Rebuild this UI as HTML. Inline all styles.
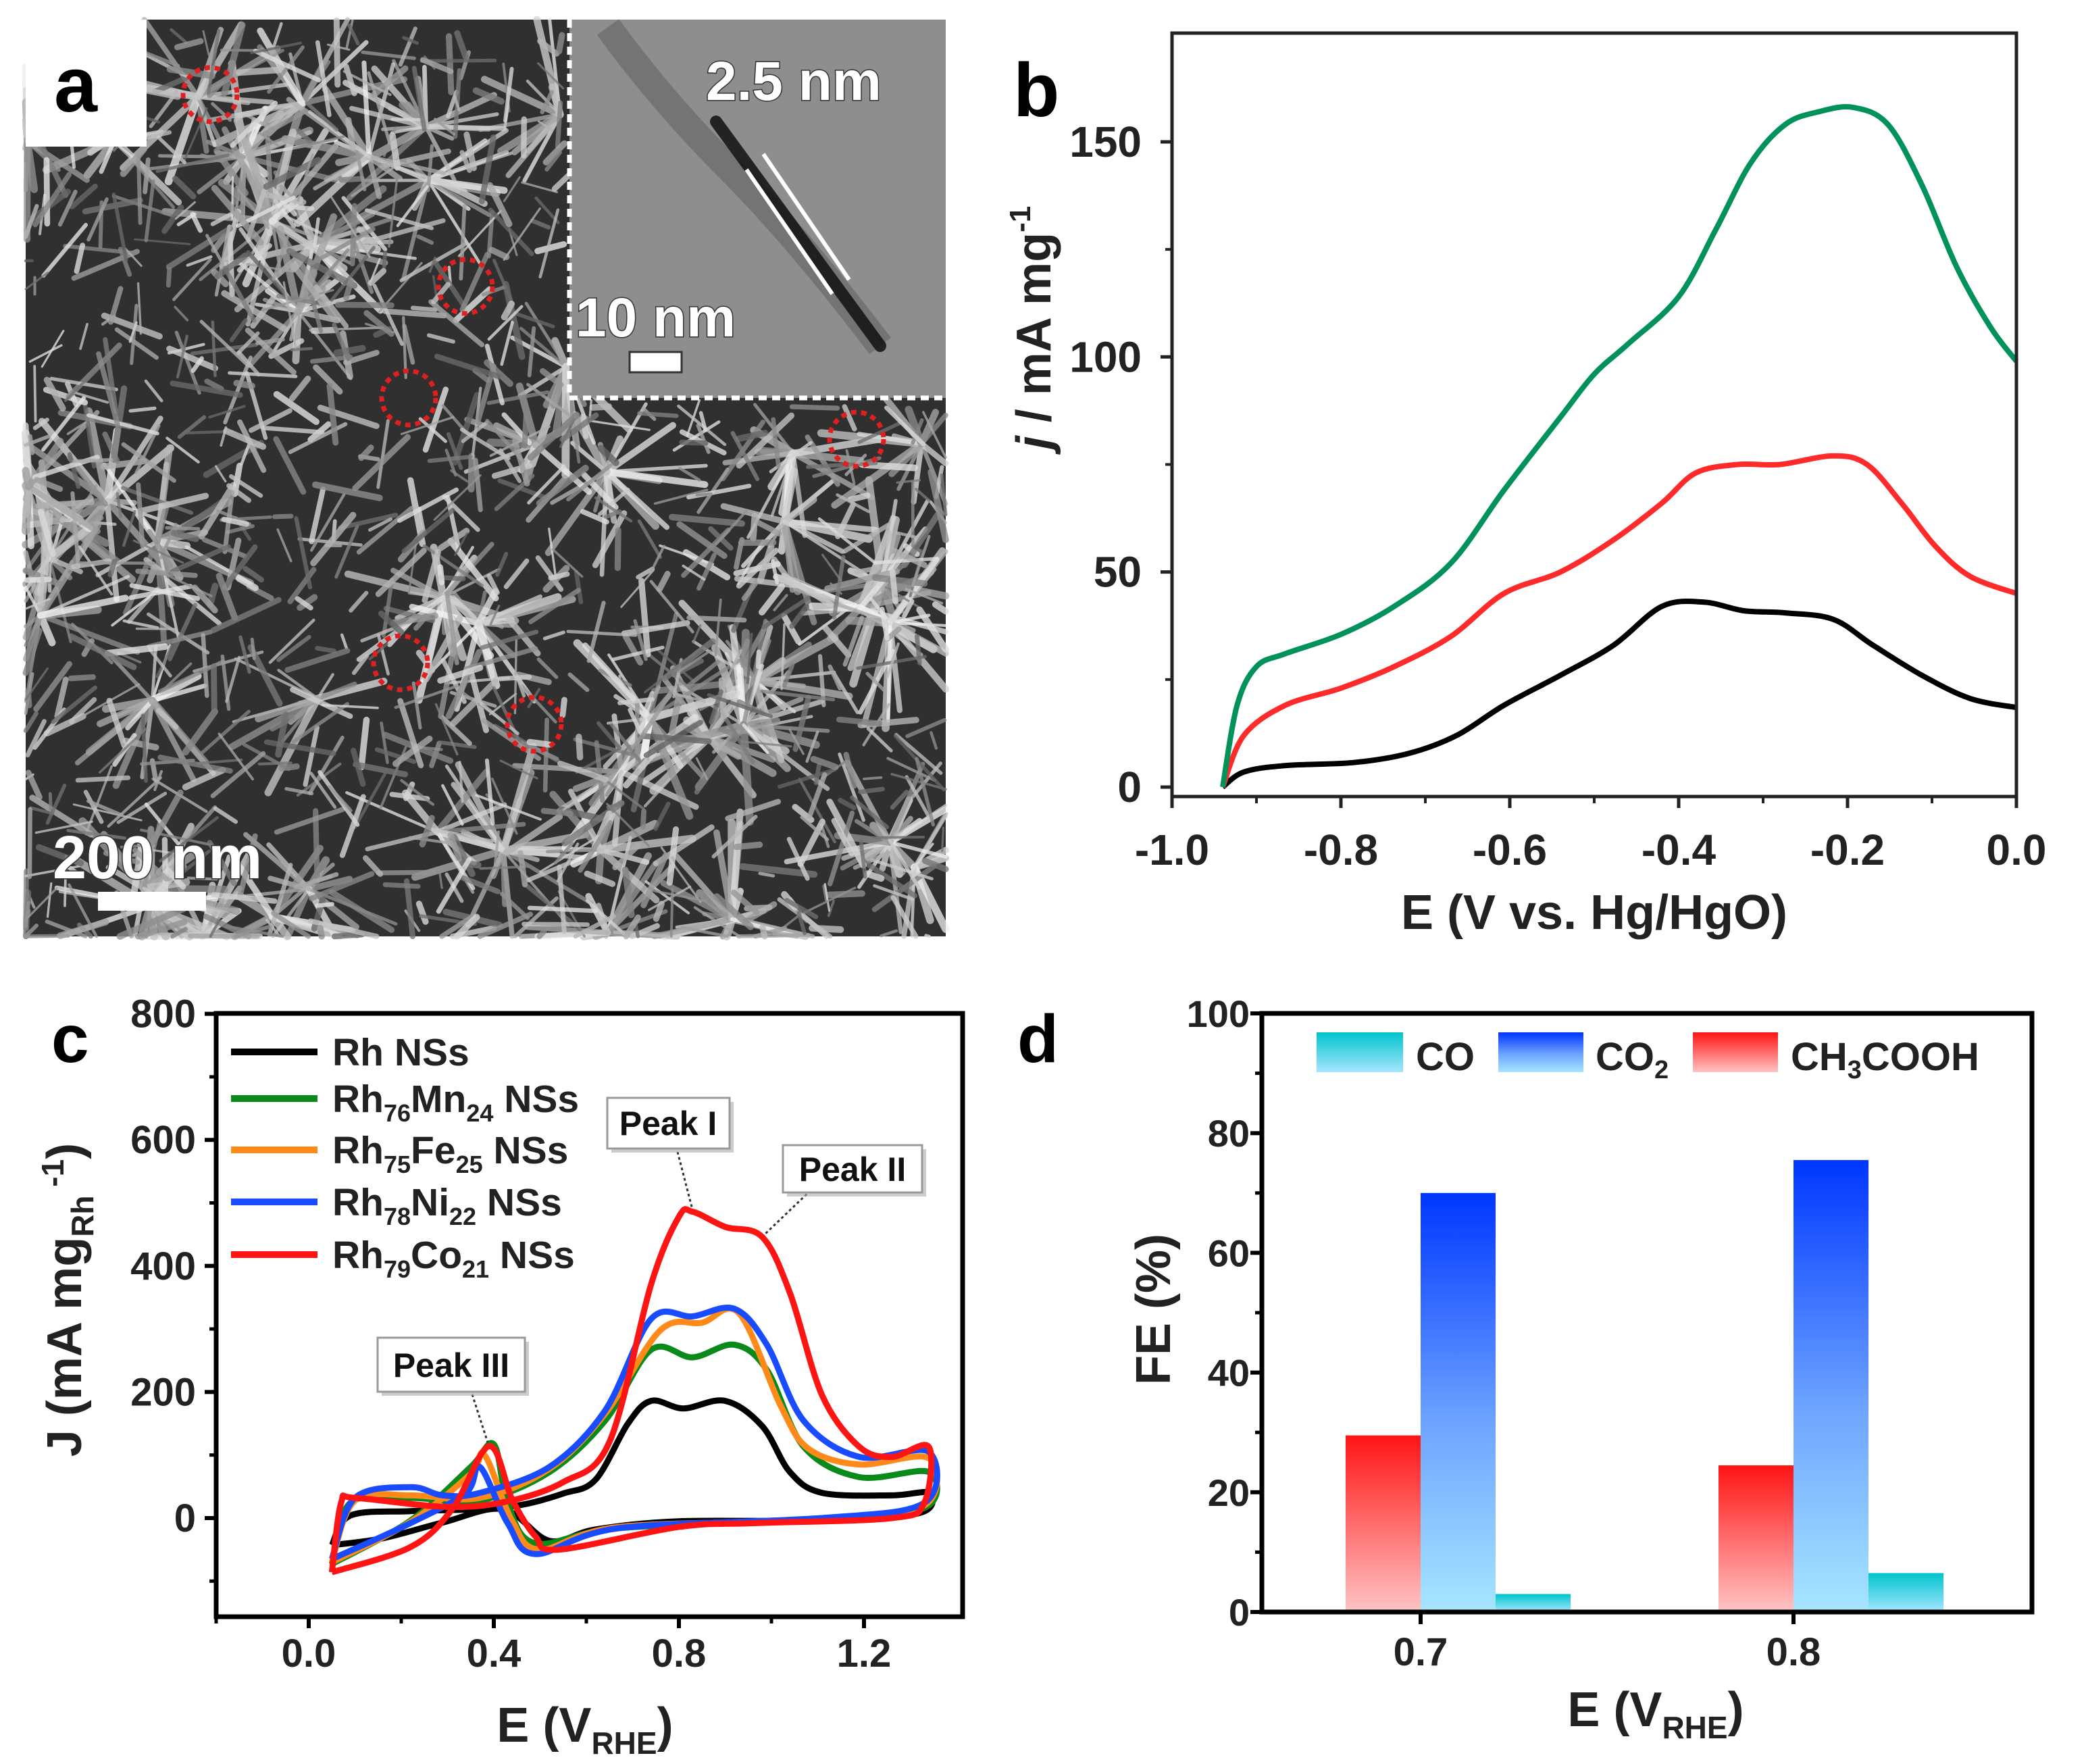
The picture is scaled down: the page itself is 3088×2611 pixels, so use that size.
<!DOCTYPE html>
<html><head><meta charset="utf-8">
<style>
html,body{margin:0;padding:0;background:#fff;}
svg{display:block;}
text{font-family:"Liberation Sans",Arial,sans-serif;font-weight:bold;}
</style></head>
<body>
<svg id="fig" width="3088" height="2611" viewBox="0 0 3088 2611" xmlns="http://www.w3.org/2000/svg">
<defs>
<linearGradient id="gRed" x1="0" y1="0" x2="0" y2="1"><stop offset="0" stop-color="#ff1414"/><stop offset="1" stop-color="#ffc4c4"/></linearGradient>
<linearGradient id="gBlue" x1="0" y1="0" x2="0" y2="1"><stop offset="0" stop-color="#0036ff"/><stop offset="0.55" stop-color="#6ea4ff"/><stop offset="1" stop-color="#a6e6ff"/></linearGradient>
<linearGradient id="gCyan" x1="0" y1="0" x2="0" y2="1"><stop offset="0" stop-color="#00c4cc"/><stop offset="1" stop-color="#a6e6ff"/></linearGradient>
</defs>

<!-- Panel a: micrograph -->
<g id="panelA">
  <rect x="38" y="29" width="1362" height="1357" fill="#303030"/>
  <g id="semTex"></g>
  <g>
    <rect x="843" y="29" width="557" height="560" fill="#8e8e8e"/>
    <path d="M900,40 Q980,150 1080,250 T1303,512" stroke="#444" stroke-width="40" opacity="0.35" fill="none"/>
    <path d="M1060,180 L1303,512" stroke="#111" stroke-width="18" stroke-linecap="round" opacity="0.85"/>
    <line x1="1105" y1="251" x2="1232" y2="435" stroke="#fff" stroke-width="6"/>
    <line x1="1130" y1="228" x2="1257" y2="414" stroke="#fff" stroke-width="6"/>
    <text x="1045" y="148" font-size="82" fill="#fff" stroke="#333" stroke-width="3" paint-order="stroke">2.5 nm</text>
    <text x="852" y="498" font-size="82" fill="#fff" stroke="#333" stroke-width="3" paint-order="stroke">10 nm</text>
    <rect x="932" y="521" width="77" height="30" fill="#fff" stroke="#333" stroke-width="3"/>
    <path d="M843,29 L843,589 L1400,589" fill="none" stroke="#fff" stroke-width="7" stroke-dasharray="12,8"/>
  </g>
  <rect x="38" y="29" width="179" height="188" fill="#fff"/>
  <text x="80" y="165" font-size="115" fill="#000">a</text>
  <g id="circles"></g>
  <text x="78" y="1300" font-size="90" fill="#fff" stroke="#333" stroke-width="3" paint-order="stroke">200 nm</text>
  <rect x="145" y="1320" width="160" height="28" fill="#fff"/>
</g>

<!-- Panel b -->
<g id="panelB">
  <text x="1500" y="172" font-size="112" fill="#000">b</text>
  <g id="bTicks"></g>
  <g id="bLines"></g>
  <rect x="1735" y="49" width="1250" height="1130" fill="none" stroke="#222" stroke-width="5"/>
  <text x="2360" y="1375" font-size="72" fill="#222" text-anchor="middle">E (V vs. Hg/HgO)</text>
  <text transform="translate(1555,485) rotate(-90)" font-size="72" fill="#222" text-anchor="middle"><tspan font-style="italic">j</tspan> / mA mg<tspan font-size="44" dy="-30">-1</tspan></text>
</g>

<!-- Panel c -->
<g id="panelC">
  <text x="76" y="1572" font-size="100" fill="#000">c</text>
  <g id="cTicks"></g>
  <g id="cLines"></g>
  <rect x="320" y="1500" width="1105" height="893" fill="none" stroke="#000" stroke-width="7"/>
  <g id="cLegend"></g>
  <g>
    <line x1="1003" y1="1705" x2="1025" y2="1790" stroke="#333" stroke-width="3" stroke-dasharray="4,4"/>
    <line x1="1200" y1="1762" x2="1132" y2="1827" stroke="#333" stroke-width="3" stroke-dasharray="4,4"/>
    <line x1="699" y1="2064" x2="722" y2="2135" stroke="#333" stroke-width="3" stroke-dasharray="4,4"/>
    <rect x="905" y="1631" width="181" height="75" fill="#aaa" opacity="0.6"/>
    <rect x="899" y="1625" width="181" height="75" fill="#fff" stroke="#999" stroke-width="3"/>
    <text x="989" y="1680" font-size="50" fill="#111" text-anchor="middle">Peak I</text>
    <rect x="1165" y="1701" width="206" height="70" fill="#aaa" opacity="0.6"/>
    <rect x="1159" y="1695" width="206" height="70" fill="#fff" stroke="#999" stroke-width="3"/>
    <text x="1262" y="1748" font-size="50" fill="#111" text-anchor="middle">Peak II</text>
    <rect x="565" y="1986" width="218" height="80" fill="#aaa" opacity="0.6"/>
    <rect x="559" y="1980" width="218" height="80" fill="#fff" stroke="#999" stroke-width="3"/>
    <text x="668" y="2038" font-size="50" fill="#111" text-anchor="middle">Peak III</text>
  </g>
  <text x="866" y="2578" font-size="72" fill="#222" text-anchor="middle">E (V<tspan font-size="46" dy="18">RHE</tspan><tspan dy="-18">)</tspan></text>
  <text transform="translate(120,1924) rotate(-90)" font-size="72" fill="#222" text-anchor="middle">J (mA mg<tspan font-size="46" dy="18">Rh</tspan><tspan font-size="46" dy="-44"> -1</tspan><tspan dy="26">)</tspan></text>
</g>

<!-- Panel d -->
<g id="panelD">
  <text x="1506" y="1572" font-size="100" fill="#000">d</text>
  <g id="dTicks"></g>
  <g id="dBars"></g>
  <rect x="1868" y="1500" width="1140" height="886" fill="none" stroke="#000" stroke-width="7"/>
  <g>
    <rect x="1949" y="1528" width="128" height="59" fill="url(#gCyan)"/>
    <text x="2096" y="1584" font-size="58" fill="#222">CO</text>
    <rect x="2218" y="1528" width="126" height="59" fill="url(#gBlue)"/>
    <text x="2362" y="1584" font-size="58" fill="#222">CO<tspan font-size="38" dy="12">2</tspan></text>
    <rect x="2506" y="1528" width="126" height="59" fill="url(#gRed)"/>
    <text x="2651" y="1584" font-size="58" fill="#222">CH<tspan font-size="38" dy="12">3</tspan><tspan dy="-12">COOH</tspan></text>
  </g>
  <text x="2451" y="2555" font-size="72" fill="#222" text-anchor="middle">E (V<tspan font-size="46" dy="18">RHE</tspan><tspan dy="-18">)</tspan></text>
  <text transform="translate(1732,1938) rotate(-90)" font-size="72" fill="#222" text-anchor="middle">FE (%)</text>
</g>
</svg>

<script>
// ---------- Panel b data ----------
const bGreenX = [-0.94,-0.923,-0.9,-0.866,-0.8,-0.737,-0.67,-0.607,-0.54,-0.5,-0.46,-0.4,-0.355,-0.315,-0.274,-0.234,-0.193,-0.152,-0.112,-0.071,-0.031,0];
const bGreenY = [0,19,28,31,35.5,42,52,69,86,96,103,114,130,145,154,157,158,154,140,121,107,99];
const bRedX = [-0.94,-0.915,-0.866,-0.8,-0.737,-0.67,-0.607,-0.54,-0.477,-0.42,-0.38,-0.33,-0.28,-0.217,-0.177,-0.136,-0.096,-0.055,0];
const bRedY = [0,12,19,23,28,35,45,50,57.5,66,73,75,75,77,75,66,56,49,45];
const bBlackX = [-0.94,-0.915,-0.866,-0.785,-0.72,-0.663,-0.607,-0.54,-0.477,-0.42,-0.37,-0.323,-0.274,-0.217,-0.17,-0.112,-0.055,0];
const bBlackY = [0,3.5,5,5.7,7.8,12,19,26,33,42,43,41,40.5,39,33,26,20.6,18.5];
const bXTicks = [-1.0,-0.8,-0.6,-0.4,-0.2,0.0];
const bYTicks = [0,50,100,150];

// ---------- Panel c data (CV loops: forward then reverse) ----------
const cRhX = [0.05,0.09,0.22,0.36,0.46,0.55,0.62,0.69,0.74,0.81,0.90,0.98,1.04,1.11,1.26,1.34,1.32,1.11,0.8,0.62,0.52,0.42,0.29,0.16,0.05];
const cRhY = [-43,4,11,14,21,39,61,150,186,174,186,146,73,40,36,40,8,-4,-5,-18,-36,14,-7,-32,-43];
const cMnX = [0.05,0.09,0.22,0.37,0.52,0.64,0.74,0.83,0.92,0.99,1.07,1.19,1.34,1.33,1.11,0.67,0.49,0.43,0.40,0.35,0.22,0.05];
const cMnY = [-73,24,32,28,73,154,267,255,275,235,113,65,73,16,0,-16,-40,24,117,81,-4,-73];
const cFeX = [0.05,0.1,0.22,0.37,0.52,0.64,0.76,0.85,0.93,1.02,1.08,1.19,1.34,1.33,1.11,0.67,0.5,0.44,0.38,0.35,0.22,0.05];
const cFeY = [-70,28,36,32,78,165,298,310,325,178,110,85,95,20,-2,-14,-50,-5,100,70,-6,-70];
const cNiX = [0.05,0.1,0.22,0.29,0.37,0.52,0.64,0.74,0.83,0.92,0.99,1.07,1.19,1.34,1.33,1.11,0.67,0.49,0.43,0.37,0.34,0.22,0.05];
const cNiY = [-65,32,49,36,40,81,170,316,320,332,275,154,97,105,24,0,-16,-57,-8,81,40,-8,-65];
const cCoX = [0.05,0.07,0.1,0.29,0.42,0.55,0.65,0.74,0.80,0.83,0.90,0.98,1.04,1.11,1.19,1.26,1.34,1.33,1.26,0.96,0.8,0.54,0.49,0.44,0.39,0.31,0.22,0.05];
const cCoY = [-86,24,32,18,25,57,121,371,478,486,462,446,357,194,113,97,113,24,0,-8,-14,-50,-29,29,114,14,-46,-86];
const cXTicks = [0.0,0.4,0.8,1.2];
const cYTicks = [0,200,400,600,800];
const cSeriesNames = ["Rh NSs","Rh76Mn24 NSs","Rh75Fe25 NSs","Rh78Ni22 NSs","Rh79Co21 NSs"];

// ---------- Panel d data ----------
const dCategories = ["0.7","0.8"];
const dCH3COOH = [29.5,24.5];
const dCO2 = [70,75.5];
const dCO = [3,6.5];
const dYTicks = [0,20,40,60,80,100];

const NS = "http://www.w3.org/2000/svg";
function mk(tag, attrs, parent){const e=document.createElementNS(NS,tag);for(const k in attrs)e.setAttribute(k,attrs[k]);parent.appendChild(e);return e;}
function smooth(pts){
  let d="M"+pts[0][0].toFixed(1)+","+pts[0][1].toFixed(1);
  const n=pts.length;
  for(let i=0;i<n-1;i++){
    const p0=pts[Math.max(0,i-1)],p1=pts[i],p2=pts[i+1],p3=pts[Math.min(n-1,i+2)];
    const t=0.5/3;
    const c1=[p1[0]+(p2[0]-p0[0])*t,p1[1]+(p2[1]-p0[1])*t];
    const c2=[p2[0]-(p3[0]-p1[0])*t,p2[1]-(p3[1]-p1[1])*t];
    d+=" C"+c1[0].toFixed(1)+","+c1[1].toFixed(1)+" "+c2[0].toFixed(1)+","+c2[1].toFixed(1)+" "+p2[0].toFixed(1)+","+p2[1].toFixed(1);
  }
  return d;
}

// Panel a decoration (texture, not data)
(function(){
  const g=document.getElementById('semTex');
  let s=12345;function r(){s=(s*1103515245+12345)%2147483648;return s/2147483648;}
  function inInset(x,y){return x>843&&y<589;}
  // star-like clusters
  for(let k=0;k<60;k++){
    const cx=38+r()*1362,cy=29+r()*1357;
    if(inInset(cx,cy))continue;
    const n=10+Math.floor(r()*14);
    for(let i=0;i<n;i++){
      const a=r()*Math.PI*2,l=40+r()*120;
      const c=140+Math.floor(r()*110);
      const x2=Math.min(1400,Math.max(38,cx+Math.cos(a)*l)),y2=Math.min(1386,Math.max(29,cy+Math.sin(a)*l));
      if(inInset(x2,y2))continue;
      mk('line',{x1:cx,y1:cy,x2:x2,y2:y2,stroke:'rgb('+c+','+c+','+c+')','stroke-width':(4+r()*8).toFixed(1),'stroke-linecap':'round',opacity:'0.75'},g);
    }
  }
  for(let i=0;i<1200;i++){
    const x=38+r()*1362,y=29+r()*1357;
    if(inInset(x,y))continue;
    const a=r()*Math.PI,l=20+r()*90;
    const c=100+Math.floor(r()*130);
    const x2=Math.min(1400,Math.max(38,x+Math.cos(a)*l)),y2=Math.min(1386,Math.max(29,y+Math.sin(a)*l));
    if(inInset(x2,y2))continue;
    mk('line',{x1:x,y1:y,x2:x2,y2:y2,stroke:'rgb('+c+','+c+','+c+')','stroke-width':(3+r()*7).toFixed(1),'stroke-linecap':'round',opacity:'0.8'},g);
  }
  const cg=document.getElementById('circles');
  [[311,140],[689,424],[605,589],[1268,650],[593,981],[791,1072]].forEach(p=>{
    const c=mk('circle',{cx:p[0],cy:p[1],r:40,fill:'none',stroke:'#e02020','stroke-width':7,'stroke-dasharray':'8,7'},cg);
    
    
  });
})();

// Panel b
(function(){
  const X1=2985,Y0=1165,PER=6.367;
  const xs=v=>X1+v*1250, ys=v=>Y0-v*PER;
  const tg=document.getElementById('bTicks');
  bXTicks.forEach(v=>{
    mk('line',{x1:xs(v),y1:1179,x2:xs(v),y2:1196,stroke:'#222','stroke-width':5},tg);
    const t=mk('text',{x:xs(v),y:1280,'font-size':64,fill:'#222','text-anchor':'middle'},tg);
    t.textContent=v.toFixed(1);
    
    
  });
  for(let i=0;i<bXTicks.length-1;i++){const v=(bXTicks[i]+bXTicks[i+1])/2;mk('line',{x1:xs(v),y1:1179,x2:xs(v),y2:1189,stroke:'#222','stroke-width':4},tg);}
  bYTicks.forEach(v=>{
    mk('line',{x1:1718,y1:ys(v),x2:1735,y2:ys(v),stroke:'#222','stroke-width':5},tg);
    const t=mk('text',{x:1690,y:ys(v)+22,'font-size':64,fill:'#222','text-anchor':'end'},tg);
    t.textContent=v;
    
    
  });
  [25,75,125].forEach(v=>mk('line',{x1:1725,y1:ys(v),x2:1735,y2:ys(v),stroke:'#222','stroke-width':4},tg));
  const lg=document.getElementById('bLines');
  [[bBlackX,bBlackY,'#000','curve-black'],[bRedX,bRedY,'#ff2a2a','curve-red'],[bGreenX,bGreenY,'#00925a','curve-green']].forEach(s=>{
    const pts=s[0].map((x,i)=>[xs(x),ys(s[1][i])]);
    const p=mk('path',{d:smooth(pts),fill:'none',stroke:s[2],'stroke-width':8,'stroke-linejoin':'round'},lg);
    
    
  });
})();

// Panel c
(function(){
  const xs=v=>457+v*685, ys=v=>2247-v*0.933;
  const tg=document.getElementById('cTicks');
  cXTicks.forEach(v=>{
    mk('line',{x1:xs(v),y1:2393,x2:xs(v),y2:2410,stroke:'#000','stroke-width':6},tg);
    const t=mk('text',{x:xs(v),y:2467,'font-size':58,fill:'#222','text-anchor':'middle'},tg);
    t.textContent=v.toFixed(1);
    
    
  });
  [-0.2,0.2,0.6,1.0].forEach(v=>mk('line',{x1:xs(v),y1:2393,x2:xs(v),y2:2403,stroke:'#000','stroke-width':5},tg));
  cYTicks.forEach(v=>{
    mk('line',{x1:303,y1:ys(v),x2:320,y2:ys(v),stroke:'#000','stroke-width':6},tg);
    const t=mk('text',{x:290,y:ys(v)+20,'font-size':58,fill:'#222','text-anchor':'end'},tg);
    t.textContent=v;
    
    
  });
  [-100,100,300,500,700].forEach(v=>mk('line',{x1:310,y1:ys(v),x2:320,y2:ys(v),stroke:'#000','stroke-width':5},tg));
  const series=[[cRhX,cRhY,'#000'],[cMnX,cMnY,'#0a8a1a'],[cFeX,cFeY,'#ff8a1a'],[cNiX,cNiY,'#1a4cff'],[cCoX,cCoY,'#ff1414']];
  const lg=document.getElementById('cLines');
  series.forEach((s,i)=>{
    const pts=s[0].map((x,j)=>[xs(x),ys(s[1][j])]);
    const p=mk('path',{d:smooth(pts),fill:'none',stroke:s[2],'stroke-width':9,'stroke-linejoin':'round'},lg);
    
    
  });
  const leg=document.getElementById('cLegend');
  const subs=[["Rh",""," NSs"],["Rh","76","Mn","24"," NSs"],["Rh","75","Fe","25"," NSs"],["Rh","78","Ni","22"," NSs"],["Rh","79","Co","21"," NSs"]];
  const rows=[1557,1626,1702,1779,1857];
  series.forEach((s,i)=>{
    mk('line',{x1:342,y1:rows[i],x2:470,y2:rows[i],stroke:s[2],'stroke-width':10},leg);
    const t=mk('text',{x:492,y:rows[i]+20,'font-size':57,fill:'#222'},leg);
    
    
    const parts=subs[i];
    if(parts.length===3){t.textContent=cSeriesNames[i];}
    else{
      const a=mk('tspan',{},t);a.textContent=parts[0];
      const b=mk('tspan',{'font-size':36,dy:14},t);b.textContent=parts[1];
      const c=mk('tspan',{dy:-14},t);c.textContent=parts[2];
      const d=mk('tspan',{'font-size':36,dy:14},t);d.textContent=parts[3];
      const e=mk('tspan',{dy:-14},t);e.textContent=parts[4];
    }
  });
})();

// Panel d
(function(){
  const ys=v=>2386-v*8.86;
  const cx=[2103,2655];
  const BW=111;
  const tg=document.getElementById('dTicks');
  dYTicks.forEach(v=>{
    mk('line',{x1:1851,y1:ys(v),x2:1868,y2:ys(v),stroke:'#000','stroke-width':6},tg);
    const t=mk('text',{x:1850,y:ys(v)+20,'font-size':56,fill:'#222','text-anchor':'end'},tg);
    t.textContent=v;
    
    
  });
  [10,30,50,70,90].forEach(v=>mk('line',{x1:1858,y1:ys(v),x2:1868,y2:ys(v),stroke:'#000','stroke-width':5},tg));
  dCategories.forEach((c,i)=>{
    mk('line',{x1:cx[i],y1:2386,x2:cx[i],y2:2404,stroke:'#000','stroke-width':6},tg);
    const t=mk('text',{x:cx[i],y:2465,'font-size':58,fill:'#222','text-anchor':'middle'},tg);
    t.textContent=c;
    
    
  });
  const bg=document.getElementById('dBars');
  dCategories.forEach((c,i)=>{
    [[dCH3COOH[i],-1,'url(#gRed)','bar-ch3cooh-'+c],[dCO2[i],0,'url(#gBlue)','bar-co2-'+c],[dCO[i],1,'url(#gCyan)','bar-co-'+c]].forEach(b=>{
      const left=cx[i]+b[1]*BW-(b[1]===-1?0:0)-(b[1]===-1?0:0);
      const r=mk('rect',{x:(b[1]===-1?cx[i]-BW:(b[1]===0?cx[i]:cx[i]+BW)),y:ys(b[0]),width:BW,height:ys(0)-ys(b[0]),fill:b[2]},bg);
      
      
    });
  });
})();
</script>
</body></html>
